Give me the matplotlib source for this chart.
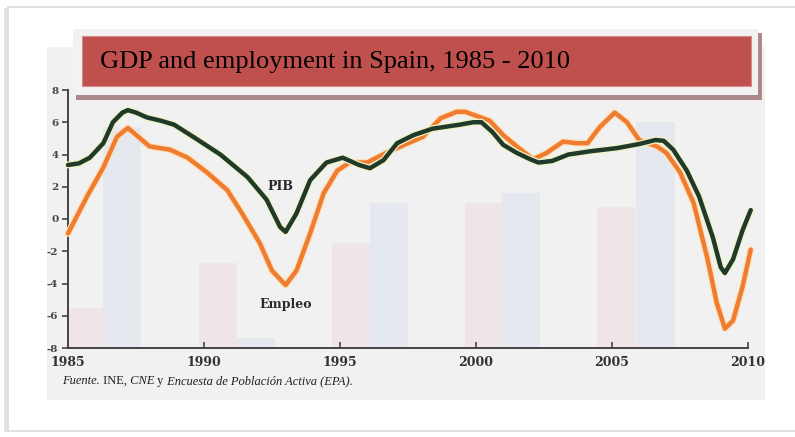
import numpy as np
import matplotlib
matplotlib.use("Agg")
from matplotlib import pyplot as plt
from matplotlib.patches import Rectangle
import matplotlib.patheffects as pe

plt.rcParams['axes.unicode_minus'] = False

# series (year, % change)
pib_years = [1985.0, 1985.4, 1985.8, 1986.3, 1986.65, 1987.0, 1987.2, 1987.5, 1987.9,
             1988.4, 1988.9, 1989.6, 1990.6, 1991.6, 1992.3, 1992.8, 1993.0, 1993.4,
             1993.9, 1994.5, 1995.1, 1995.7, 1996.1, 1996.6, 1997.1, 1997.7, 1998.4,
             1999.4, 1999.9, 2000.2, 2000.6, 2001.0, 2001.5, 2002.0, 2002.3, 2002.8,
             2003.4, 2004.2, 2005.2, 2006.0, 2006.6, 2006.9, 2007.25, 2007.75, 2008.2,
             2008.7, 2009.0, 2009.15, 2009.45, 2009.8, 2010.1]
pib_values = [3.35, 3.45, 3.8, 4.7, 6.0, 6.6, 6.75, 6.6, 6.3,
              6.1, 5.85, 5.1, 4.0, 2.6, 1.2, -0.5, -0.8, 0.35,
              2.4, 3.5, 3.8, 3.35, 3.15, 3.65, 4.7, 5.2, 5.6,
              5.85, 6.0, 6.0, 5.4, 4.6, 4.1, 3.7, 3.5, 3.6,
              4.0, 4.2, 4.4, 4.65, 4.9, 4.85, 4.3, 3.0, 1.4,
              -1.1, -3.0, -3.35, -2.5, -0.7, 0.55]

emp_years = [1985.0, 1985.7, 1986.3, 1986.8, 1987.2, 1987.65, 1988.0, 1988.75, 1989.4,
             1990.1, 1990.85, 1991.4, 1992.05, 1992.5, 1993.0, 1993.4, 1993.9, 1994.4,
             1994.9, 1995.35, 1996.0, 1996.7, 1997.5, 1998.05, 1998.7, 1999.3, 1999.6,
             2000.5, 2001.0, 2001.5, 2002.1, 2002.6, 2003.2, 2003.7, 2004.1, 2004.55,
             2005.1, 2005.55, 2006.0, 2006.65, 2007.0, 2007.5, 2008.0, 2008.5, 2008.85,
             2009.15, 2009.45, 2009.8, 2010.1]
emp_values = [-0.9, 1.4, 3.2, 5.1, 5.65, 5.0, 4.5, 4.3, 3.8,
              2.9, 1.8, 0.35, -1.5, -3.2, -4.1, -3.2, -0.9, 1.6,
              3.0, 3.5, 3.5, 4.1, 4.7, 5.1, 6.25, 6.65, 6.65,
              6.1, 5.2, 4.5, 3.7, 4.1, 4.8, 4.7, 4.7, 5.7,
              6.6, 6.0, 4.9, 4.5, 4.1, 2.9, 1.0, -2.4, -5.2,
              -6.8, -6.3, -4.2, -1.9]

# faint bars showing through the scanned page
ghost_x = [1985.65, 1987.0, 1990.5, 1991.9, 1995.4, 1996.8, 2000.3, 2001.65, 2005.15, 2006.6]
ghost_top = [-5.5, 5.7, -2.7, -7.4, -1.5, 1.0, 1.0, 1.6, 0.75, 6.0]
ghost_kind = ['r', 'b', 'r', 'b', 'r', 'b', 'r', 'b', 'r', 'b']

x_ticks = [1985, 1990, 1995, 2000, 2005, 2010]
y_ticks = [8, 6, 4, 2, 0, -2, -4, -6, -8]

title = "GDP and employment in Spain, 1985 - 2010"

W, H = 795, 437
fig = plt.figure(figsize=(W / 100, H / 100), dpi=100)
fig.patch.set_facecolor('white')


def box(x0, y0, x1, y1, **kw):
    # rectangle given in picture pixels (top-left origin)
    r = Rectangle((x0 / W, 1 - y1 / H), (x1 - x0) / W, (y1 - y0) / H,
                  transform=fig.transFigure, **kw)
    fig.patches.append(r)
    return r


# slide frame and the photographed page
box(4, 8, 9, 432, facecolor='#e2e2e2', edgecolor='none', zorder=-3)
box(8, 7, 800, 431, facecolor='white', edgecolor='#dcdcdc', lw=1.2, zorder=-2)
box(47, 47, 765, 400, facecolor='#f2f1f1', edgecolor='none', zorder=-1)

ax = fig.add_axes([68 / W, 1 - 348 / H, 680 / W, 258 / H])
ax.set_facecolor('none')

colors = {'r': '#efe5e8', 'b': '#e6e8f0'}
ax.bar(ghost_x, [t + 8 for t in ghost_top], bottom=-8, width=1.4,
       color=[colors[k] for k in ghost_kind], zorder=0)

ax.plot(pib_years, pib_values, color='#20392a', lw=3.2, solid_joinstyle='round',
        solid_capstyle='round', clip_on=False, zorder=4,
        path_effects=[pe.Stroke(linewidth=5, foreground='#eef4c4'), pe.Normal()])
ax.plot(emp_years, emp_values, color='#ef7c30', lw=3.2, solid_joinstyle='round',
        solid_capstyle='round', clip_on=False, zorder=3,
        path_effects=[pe.Stroke(linewidth=5, foreground='#fbe2bd'), pe.Normal()])

ax.text(1992.8, 2.0, 'PIB', fontsize=9, fontweight='bold', family='DejaVu Serif',
        color='#2a2a2a', ha='center', va='center')
ax.text(1993.0, -5.3, 'Empleo', fontsize=9, fontweight='bold', family='DejaVu Serif',
        color='#2a2a2a', ha='center', va='center')

ax.set_xlim(1985, 2010)
ax.set_ylim(-8, 8)
ax.set_xticks(x_ticks)
ax.set_yticks(y_ticks)
ax.tick_params(axis='x', direction='in', length=4, width=1.2, color='#444444', pad=6,
               labelsize=9, labelcolor='#333333')
ax.tick_params(axis='y', direction='out', length=4, width=1.2, color='#444444', pad=3,
               labelsize=7.5, labelcolor='#444444')
for lab in ax.get_xticklabels() + ax.get_yticklabels():
    lab.set_family('DejaVu Serif')
    lab.set_fontweight('bold')
for s in ['top', 'right']:
    ax.spines[s].set_visible(False)
for s in ['left', 'bottom']:
    ax.spines[s].set_color('#444444')
    ax.spines[s].set_linewidth(1.4)

# source line under the chart
parts = [('Fuente.', 'italic'), (' INE,', 'normal'), (' CNE', 'italic'),
         (' y', 'normal'), (' Encuesta de Población Activa (EPA).', 'italic')]
prev = fig.text(62 / W, 1 - 381 / H, parts[0][0], fontsize=9, style=parts[0][1],
                family='Liberation Serif', color='#1e1e1e', va='center')
for txt, st in parts[1:]:
    prev = ax.annotate(txt, xy=(1, 0.5), xycoords=prev, va='center', ha='left',
                       fontsize=9, style=st, family='Liberation Serif', color='#1e1e1e',
                       annotation_clip=False)

# title banner
box(76, 33, 762, 100, facecolor='#ad898b', edgecolor='none', zorder=5)
box(73, 29, 758, 95, facecolor='#f2f2f2', edgecolor='none', zorder=6)
box(82, 36, 751, 86, facecolor='#c0504d', edgecolor='#d98a88', lw=0.8, zorder=7)
fig.text(100 / W, 1 - 62 / H, title, fontsize=19, family='Liberation Serif',
         color='black', va='center', ha='left', zorder=8)

fig.savefig('out.png', dpi=100)
